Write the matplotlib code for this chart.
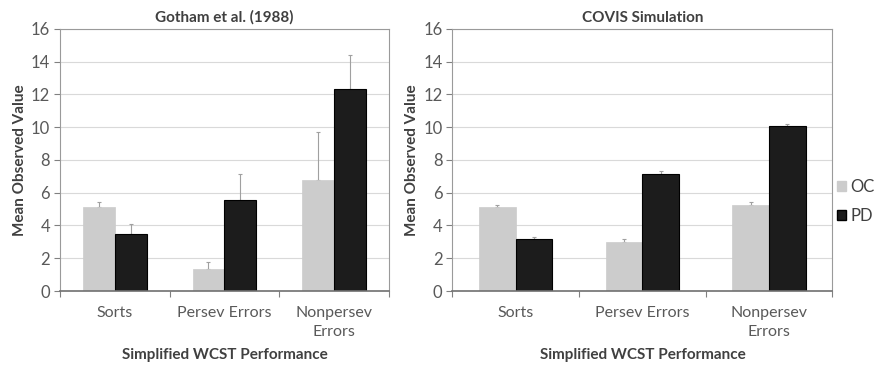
import numpy as np
import matplotlib
matplotlib.use("Agg")
import matplotlib.pyplot as plt
from matplotlib.patches import Patch

plt.rcParams['font.family'] = ['Lato', 'DejaVu Sans']

# Datos
categories = ["Sorts", "Persev Errors", "Nonpersev\nErrors"]
groups = ["OC", "PD"]

gotham_oc = [5.1, 1.35, 6.75]
gotham_oc_err = [0.35, 0.4, 2.95]
gotham_pd = [3.5, 5.55, 12.3]
gotham_pd_err = [0.6, 1.6, 2.1]

covis_oc = [5.15, 3.0, 5.25]
covis_oc_err = [0.1, 0.2, 0.2]
covis_pd = [3.2, 7.15, 10.05]
covis_pd_err = [0.1, 0.2, 0.15]

titles = ["Gotham et al. (1988)", "COVIS Simulation"]

OC_COLOR = "#cccccc"
PD_COLOR = "#1c1c1c"
TXT = "#595959"

fig = plt.figure(figsize=(8.8, 3.68), dpi=100)
ax_left = fig.add_axes([0.068, 0.209, 0.374, 0.713])
ax_right = fig.add_axes([0.514, 0.209, 0.432, 0.713])


def draw_panel(ax, oc, oc_err, pd_, pd_err, title):
    x = np.arange(len(categories))
    w = 0.29
    ax.bar(x - w / 2, oc, w, color=OC_COLOR, edgecolor=OC_COLOR, linewidth=0.5, zorder=2)
    ax.bar(x + w / 2, pd_, w, color=PD_COLOR, edgecolor="black", linewidth=0.8, zorder=2)
    # Barras de error solo hacia arriba (estilo Excel)
    ax.errorbar(x - w / 2, oc, yerr=[np.zeros(len(oc)), oc_err], fmt="none",
                ecolor="#a0a0a0", elinewidth=0.8, capsize=1.5, capthick=0.8, zorder=1)
    ax.errorbar(x + w / 2, pd_, yerr=[np.zeros(len(pd_)), pd_err], fmt="none",
                ecolor="#a0a0a0", elinewidth=0.8, capsize=1.5, capthick=0.8, zorder=1)

    ax.set_xlim(-0.5, len(categories) - 0.5)
    ax.set_ylim(0, 16)
    ax.set_yticks(range(0, 17, 2))
    ax.yaxis.grid(True, color="#d9d9d9", linewidth=0.8, zorder=0)
    ax.set_axisbelow(True)

    # Marcas del eje x en los límites de cada categoría
    ax.set_xticks(np.arange(-0.5, len(categories), 1.0))
    ax.set_xticklabels([])
    ax.set_xticks(x, minor=True)
    ax.set_xticklabels(categories, minor=True, fontsize=11.5, color=TXT, linespacing=1.45)
    ax.tick_params(axis="x", which="minor", length=0, pad=11)
    ax.tick_params(axis="x", which="major", length=4, color="#808080", direction="out")
    ax.tick_params(axis="y", length=4, color="#808080", labelsize=12, labelcolor=TXT, pad=3)

    for side in ["top", "right", "left"]:
        ax.spines[side].set_color("#9a9a9a")
        ax.spines[side].set_linewidth(0.8)
    ax.spines["bottom"].set_color("#707070")
    ax.spines["bottom"].set_linewidth(1.2)

    ax.set_title(title, fontsize=11, fontweight="bold", color="#404040", pad=5)
    ax.set_ylabel("Mean Observed Value", fontsize=11, fontweight="bold", color="#404040", labelpad=3)
    ax.set_xlabel("Simplified WCST Performance", fontsize=11, fontweight="bold", color="#404040", labelpad=6)


draw_panel(ax_left, gotham_oc, gotham_oc_err, gotham_pd, gotham_pd_err, titles[0])
draw_panel(ax_right, covis_oc, covis_oc_err, covis_pd, covis_pd_err, titles[1])

handles = [Patch(facecolor=OC_COLOR, edgecolor=OC_COLOR),
           Patch(facecolor=PD_COLOR, edgecolor="black")]
fig.legend(handles, groups, loc="center left", bbox_to_anchor=(0.951, 0.452),
           frameon=False, fontsize=12, handlelength=0.55, handleheight=0.55,
           handletextpad=0.25, labelspacing=0.8, labelcolor="#404040", borderpad=0,
           borderaxespad=0)

fig.savefig("out.png", dpi=100)
